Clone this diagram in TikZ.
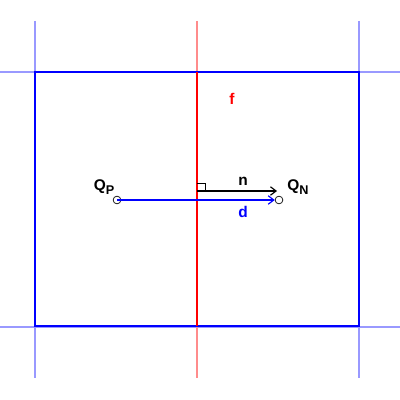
\documentclass[tikz,border=0pt]{standalone}
\usepackage{fontspec}
\setmainfont{Liberation Sans}
\usetikzlibrary{arrows.meta}
\begin{document}
\begin{tikzpicture}[x=0.025cm,y=-0.025cm,
  lbl/.style={font=\fontsize{11}{12}\selectfont\bfseries, inner sep=1pt},
  thinb/.style={blue!40, line width=1pt},
  thinr/.style={red!45, line width=1pt},
  cell/.style={blue, line width=1.1pt},
  face/.style={red, line width=0.9pt},
  pt/.style={circle, draw=black, line width=0.5pt, minimum size=5.5pt, inner sep=0pt},
  vec/.style={line width=0.8pt, -{Straight Barb[length=4pt,width=6pt]}}]
\useasboundingbox (0,0) rectangle (400,400);
% extended grid lines
\draw[thinb] (0,72) -- (400,72);
\draw[thinb] (0,327) -- (400,327);
\draw[thinb] (35,21) -- (35,378);
\draw[thinb] (359,21) -- (359,378);
\draw[thinr] (197,21) -- (197,378);
% cell
\draw[cell] (35,72) rectangle (359,326);
\draw[face] (197,72) -- (197,326);
% points
\node[pt] (qp) at (117,200) {};
\node[pt] (qn) at (279,200) {};
\coordinate (fc) at (197,191);
\coordinate (ne) at (277,191);
% right-angle mark
\draw[line width=0.5pt] (197,183) -- (205,183) -- (205,191);
% vectors
\draw[vec, black] (fc) -- (ne);
\draw[vec, blue] (qp.center) -- (qn);
% labels
\node[lbl] (lqp) at (104,187) {Q{\fontsize{9}{10}\selectfont\raisebox{-2.5pt}{P}}};
\node[lbl] (lqn) at (298,187) {Q{\fontsize{9}{10}\selectfont\raisebox{-2.5pt}{N}}};
\node[lbl] (ln) at (243,181) {n};
\node[lbl, text=blue] (ld) at (243,212) {d};
\node[lbl, text=red] (lf) at (232,99) {f};
\end{tikzpicture}
\end{document}
